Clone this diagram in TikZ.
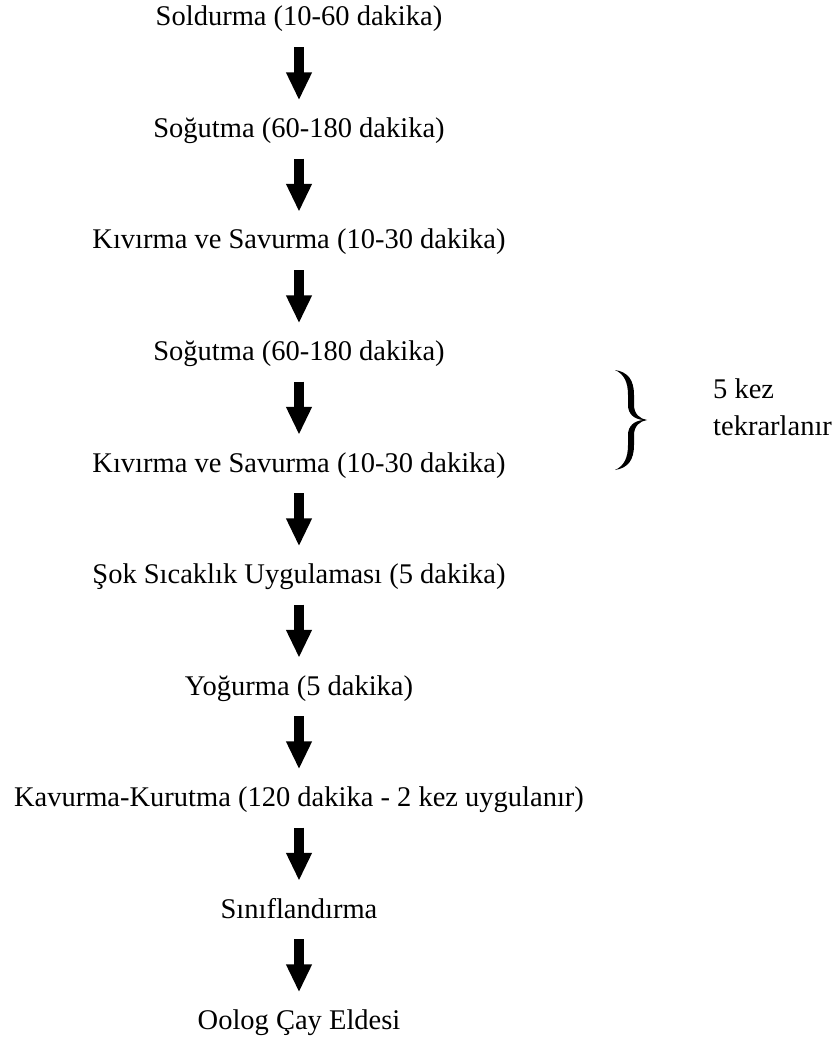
\documentclass[tikz,border=0pt]{standalone}
\usepackage{fontspec}
\setmainfont{Liberation Serif}
\usetikzlibrary{arrows.meta}

\begin{document}
\begin{tikzpicture}[x=1pt,y=-1pt,>={Triangle[length=28pt,width=24pt]},
  adim/.style={inner sep=0pt,text height=20pt,text depth=6pt,anchor=base,font=\fontsize{28.5}{37}\selectfont},
  ok/.style={->,line width=10pt,shorten <=15pt,shorten >=17pt}]
\useasboundingbox (0,0) rectangle (839,1048);
\node[adim] (s1) at (299,26) {Soldurma (10-60 dakika)};
\node[adim] (s2) at (299,137.5) {Soğutma (60-180 dakika)};
\node[adim] (s3) at (299,249) {Kıvırma ve Savurma (10-30 dakika)};
\node[adim] (s4) at (299,360.5) {Soğutma (60-180 dakika)};
\node[adim] (s5) at (299,472) {Kıvırma ve Savurma (10-30 dakika)};
\node[adim] (s6) at (299,583.5) {Şok Sıcaklık Uygulaması (5 dakika)};
\node[adim] (s7) at (299,695) {Yoğurma (5 dakika)};
\node[adim] (s8) at (299,806.5) {Kavurma-Kurutma (120 dakika - 2 kez uygulanır)};
\node[adim] (s9) at (299,918) {Sınıflandırma};
\node[adim] (s10) at (299,1029.5) {Oolog Çay Eldesi};
\foreach \a/\b in {s1/s2,s2/s3,s3/s4,s4/s5,s5/s6,s6/s7,s7/s8,s8/s9,s9/s10}
  \draw[ok] (\a.south) -- (\b.north);
% tekrar parantezi
\fill (615,370) .. controls (628,372) and (634,380) .. (634,395) -- (634,405)
  .. controls (634,414) and (640,419) .. (647,420)
  .. controls (640,421) and (634,426) .. (634,435) -- (634,445)
  .. controls (634,460) and (628,468) .. (615,470)
  .. controls (624,466) and (628,458) .. (628,445) -- (628,435)
  .. controls (628,426) and (634,421) .. (643,420)
  .. controls (634,419) and (628,414) .. (628,405) -- (628,395)
  .. controls (628,382) and (624,374) .. (615,370) -- cycle;
\node[inner sep=0pt,anchor=north west,align=left,font=\fontsize{28.5}{37}\selectfont] (tekrar) at (713,379) {5 kez\\tekrarlanır};
\end{tikzpicture}
\end{document}
